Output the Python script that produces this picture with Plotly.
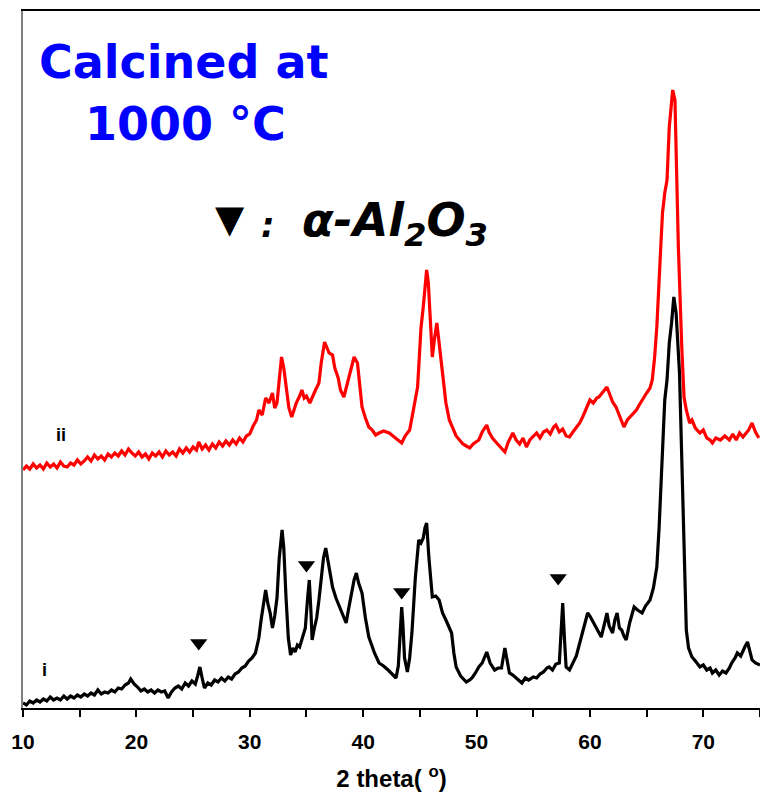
import plotly.graph_objects as go

# 2-theta (deg) and intensity (a.u.)
theta_i = [10.0, 10.3, 10.6, 10.9, 11.2, 11.5, 11.8, 12.1, 12.4, 12.7, 13.0, 13.3, 13.6, 13.9, 14.2, 14.5, 14.8,
           15.1, 15.4, 15.7, 16.0, 16.3, 16.6, 16.9, 17.2, 17.5, 17.8, 18.1, 18.4, 18.7, 19.0, 19.3, 19.5, 19.8,
           20.1, 20.4, 20.7, 21.0, 21.3, 21.6, 21.9, 22.2, 22.5, 22.8, 23.1, 23.4, 23.7, 24.0, 24.3, 24.6, 24.9,
           25.2, 25.4, 25.6, 25.8, 26.0, 26.3, 26.6, 26.9, 27.2, 27.5, 27.8, 28.1, 28.4, 28.7, 29.0, 29.3, 29.6,
           29.9, 30.2, 30.5, 30.8, 31.0, 31.2, 31.4, 31.6, 31.8, 32.0, 32.2, 32.4, 32.6, 32.85, 33.0, 33.2, 33.4,
           33.6, 33.8, 34.0, 34.2, 34.4, 34.7, 34.9, 35.1, 35.25, 35.4, 35.5, 35.7, 35.9, 36.1, 36.3, 36.5, 36.7,
           36.9, 37.0, 37.2, 37.3, 37.6, 37.9, 38.2, 38.5, 38.7, 38.9, 39.2, 39.4, 39.6, 39.9, 40.2, 40.5, 40.8,
           41.0, 41.4, 41.8, 42.2, 42.6, 42.9, 43.1, 43.25, 43.4, 43.5, 43.65, 43.9, 44.1, 44.3, 44.6, 44.9, 45.1,
           45.3, 45.45, 45.6, 45.8, 46.1, 46.4, 46.7, 47.0, 47.3, 47.6, 47.8, 48.0, 48.2, 48.6, 48.9, 49.1, 49.4,
           49.6, 49.9, 50.2, 50.5, 50.9, 51.2, 51.6, 51.9, 52.2, 52.5, 52.7, 52.9, 53.2, 53.5, 53.8, 54.0, 54.3,
           54.6, 55.0, 55.3, 55.6, 55.9, 56.2, 56.4, 56.7, 57.0, 57.3, 57.45, 57.6, 57.75, 57.9, 58.2, 58.5, 58.8,
           59.1, 59.4, 59.8, 60.0, 60.2, 60.6, 61.0, 61.3, 61.5, 61.7, 62.0, 62.2, 62.4, 62.6, 62.8, 63.0, 63.2,
           63.5, 63.9, 64.2, 64.6, 64.9, 65.3, 65.6, 65.9, 66.1, 66.3, 66.6, 66.8, 67.0, 67.2, 67.4, 67.6, 67.9,
           68.1, 68.3, 68.5, 68.7, 69.0, 69.3, 69.7, 70.0, 70.3, 70.6, 70.8, 71.1, 71.4, 71.7, 72.0, 72.3, 72.5,
           72.8, 73.0, 73.3, 73.5, 73.7, 73.9, 74.1, 74.3, 74.6, 75.0]
intensity_i = [5, 3, 7, 5, 8, 6, 9, 7, 11, 8, 10, 8, 12, 9, 12, 10, 13,
               11, 14, 12, 15, 13, 18, 14, 16, 15, 18, 16, 20, 19, 23, 25, 29, 24,
               21, 17, 19, 16, 18, 15, 18, 16, 17, 10, 16, 20, 22, 19, 25, 22, 27,
               24, 32, 41, 30, 20, 25, 23, 28, 26, 30, 27, 31, 29, 34, 36, 40, 42,
               47, 50, 55, 70, 88, 105, 118, 104, 95, 80, 92, 110, 150, 178, 160, 110, 70,
               53, 60, 56, 63, 61, 72, 80, 110, 128, 95, 68, 80, 90, 108, 130, 150, 160,
               148, 140, 128, 121, 110, 101, 92, 85, 98, 110, 128, 135, 125, 115, 90, 71, 60,
               55, 45, 42, 38, 34, 30, 42, 75, 101, 85, 50, 36, 50, 75, 130, 168, 165,
               170, 180, 185, 150, 111, 112, 108, 95, 88, 80, 75, 55, 41, 32, 28, 26, 28,
               30, 35, 41, 45, 56, 45, 38, 40, 40, 60, 48, 35, 33, 30, 27, 25, 30,
               28, 31, 30, 34, 36, 40, 41, 38, 44, 45, 80, 105, 70, 41, 38, 45, 52,
               65, 78, 95, 92, 88, 80, 71, 85, 95, 82, 75, 88, 95, 80, 78, 72, 68,
               85, 101, 98, 95, 102, 108, 120, 141, 180, 228, 308, 328, 365, 385, 411, 395, 335,
               250, 150, 78, 60, 51, 47, 41, 43, 38, 40, 35, 38, 33, 37, 35, 40, 45,
               50, 55, 52, 58, 62, 66, 55, 48, 45, 43]

theta_ii = [10.0, 10.3, 10.6, 10.9, 11.2, 11.5, 11.8, 12.1, 12.4, 12.7, 13.0, 13.3, 13.6, 13.9, 14.2, 14.5, 14.8,
            15.1, 15.4, 15.7, 16.0, 16.3, 16.6, 16.9, 17.2, 17.5, 17.8, 18.1, 18.4, 18.7, 19.0, 19.3, 19.6, 19.9,
            20.2, 20.5, 20.8, 21.1, 21.4, 21.7, 22.0, 22.3, 22.6, 22.9, 23.2, 23.5, 23.8, 24.1, 24.4, 24.7, 25.0,
            25.3, 25.5, 25.8, 26.1, 26.4, 26.7, 27.0, 27.3, 27.6, 27.9, 28.2, 28.5, 28.8, 29.1, 29.4, 29.7, 30.0,
            30.3, 30.6, 30.8, 31.1, 31.4, 31.7, 32.0, 32.2, 32.4, 32.6, 32.8, 33.0, 33.2, 33.45, 33.7, 33.9, 34.1,
            34.4, 34.6, 34.8, 35.0, 35.3, 35.5, 35.8, 36.1, 36.3, 36.6, 36.8, 37.0, 37.3, 37.5, 37.8, 38.0, 38.3,
            38.5, 38.8, 39.0, 39.2, 39.5, 39.7, 39.9, 40.2, 40.5, 40.8, 41.1, 41.4, 41.8, 42.3, 42.6, 42.9, 43.2,
            43.4, 43.7, 44.1, 44.3, 44.5, 44.8, 45.0, 45.1, 45.3, 45.45, 45.6, 45.75, 45.9, 46.1, 46.3, 46.5, 46.7,
            47.0, 47.3, 47.6, 47.9, 48.2, 48.5, 48.8, 49.1, 49.4, 49.7, 50.0, 50.2, 50.5, 50.9, 51.1, 51.4, 51.7,
            52.0, 52.3, 52.5, 52.8, 53.2, 53.5, 53.8, 54.1, 54.4, 54.7, 55.0, 55.3, 55.6, 55.9, 56.2, 56.5, 56.8,
            57.0, 57.3, 57.6, 57.9, 58.2, 58.5, 58.8, 59.1, 59.4, 59.7, 60.0, 60.3, 60.6, 60.8, 61.1, 61.5, 61.8,
            62.0, 62.3, 62.6, 63.0, 63.3, 63.6, 64.1, 64.4, 64.7, 65.0, 65.3, 65.5, 65.7, 65.9, 66.2, 66.4, 66.6,
            66.8, 67.0, 67.2, 67.3, 67.5, 67.6, 67.8, 68.1, 68.3, 68.5, 68.8, 69.0, 69.3, 69.7, 70.0, 70.3, 70.6,
            70.8, 71.1, 71.5, 71.9, 72.3, 72.6, 72.9, 73.2, 73.5, 73.8, 74.0, 74.3, 74.6, 74.9]
intensity_ii = [238, 242, 239, 244, 240, 243, 239, 245, 241, 244, 240, 246, 242, 241, 245, 243, 248,
                244, 247, 251, 247, 253, 249, 252, 248, 254, 251, 255, 252, 257, 253, 259, 255, 252,
                256, 251, 254, 249, 255, 252, 256, 251, 257, 253, 256, 252, 259, 255, 260, 256, 261,
                258, 266, 259, 263, 258, 264, 260, 266, 262, 267, 263, 268, 264, 270, 266, 272, 274,
                282, 288, 298, 293, 310, 305, 315, 300, 305, 330, 351, 340, 320, 300, 291, 298, 305,
                312, 318, 310, 312, 305, 311, 318, 325, 345, 366, 360, 355, 353, 340, 330, 318, 311,
                320, 335, 345, 351, 345, 325, 301, 290, 281, 278, 273, 275, 277, 275, 272, 270, 266,
                265, 272, 278, 290, 301, 321, 360, 380, 401, 420, 438, 425, 395, 351, 370, 385, 365,
                335, 305, 288, 280, 272, 268, 264, 262, 260, 264, 266, 268, 276, 283, 276, 270, 266,
                262, 258, 256, 266, 275, 268, 264, 270, 261, 268, 272, 275, 270, 276, 278, 274, 281,
                283, 276, 279, 272, 271, 276, 280, 285, 292, 300, 308, 305, 310, 311, 315, 321, 312,
                306, 301, 292, 281, 288, 292, 298, 304, 310, 315, 320, 328, 350, 381, 450, 495, 515,
                528, 581, 610, 618, 608, 545, 461, 361, 311, 298, 285, 288, 280, 275, 278, 270, 268,
                265, 270, 268, 272, 268, 274, 268, 275, 271, 276, 278, 285, 276, 270]

marker_theta = [25.5, 35.0, 43.4, 57.2]
marker_height = [65, 143, 116, 130]

x_ticks = [10, 20, 30, 40, 50, 60, 70]

fig = go.Figure()
fig.add_trace(go.Scatter(x=theta_ii, y=intensity_ii, mode="lines",
                         line=dict(color="#FF0000", width=3.2), showlegend=False))
fig.add_trace(go.Scatter(x=theta_i, y=intensity_i, mode="lines",
                         line=dict(color="#000000", width=3.2), showlegend=False))
fig.add_trace(go.Scatter(x=marker_theta, y=marker_height, mode="markers",
                         marker=dict(symbol="triangle-down", size=15, color="black"),
                         showlegend=False))

W, H = 760, 798
L, R, T, B = 23, 0, 11, 90
pw, ph = W - L - R, H - T - B


def px(x):
    return (x - L) / pw


def py(y):
    return (H - B - y) / ph


title_font = dict(family="DejaVu Sans", size=46, color="#0000FF")
anns = [
    dict(x=px(184), y=py(62), text="<b>Calcined at</b>", font=title_font),
    dict(x=px(185), y=py(124), text="<b>1000 °C</b>", font=title_font),
    dict(x=px(230), y=py(219), text="▼", font=dict(family="DejaVu Sans", size=38, color="black")),
    dict(x=px(268), y=py(225), text="<b><i>:</i></b>", font=dict(family="DejaVu Sans", size=34, color="black")),
    dict(x=px(300), y=py(224), xanchor="left", text="<b><i>α-Al<sub>2</sub>O<sub>3</sub></i></b>",
         font=dict(family="DejaVu Sans", size=46, color="black")),
    dict(x=px(61), y=py(435), text="<b>ii</b>", font=dict(family="Liberation Sans", size=18, color="black")),
    dict(x=px(44), y=py(670), text="<b>i</b>", font=dict(family="Liberation Sans", size=18, color="black")),
]
for a in anns:
    a.setdefault("xanchor", "center")
    a.update(xref="paper", yref="paper", yanchor="middle", showarrow=False)

fig.update_layout(
    width=W, height=H,
    margin=dict(l=L, r=R, t=T, b=B),
    paper_bgcolor="white", plot_bgcolor="white",
    annotations=anns,
    xaxis=dict(range=[10, 75], tickvals=x_ticks, ticktext=[str(v) for v in x_ticks],
               ticks="outside", ticklen=7, tickwidth=1.5, tickcolor="black", ticklabelstandoff=7,
               minor=dict(dtick=5, tick0=5, ticks="outside", ticklen=7, tickwidth=1.5, tickcolor="black"),
               showline=True, linecolor="black", linewidth=2, mirror=True,
               showgrid=False, zeroline=False,
               tickfont=dict(family="Liberation Sans", size=21, color="black", weight="bold"),
               title=dict(text="2 theta( <sup>o</sup>)", standoff=18,
                          font=dict(family="Liberation Sans", size=24, color="black", weight="bold"))),
    yaxis=dict(range=[0, 697], showticklabels=False, ticks="", showgrid=False, zeroline=False,
               showline=True, linecolor="#808080", linewidth=2),
)

fig.write_html("out.html")
